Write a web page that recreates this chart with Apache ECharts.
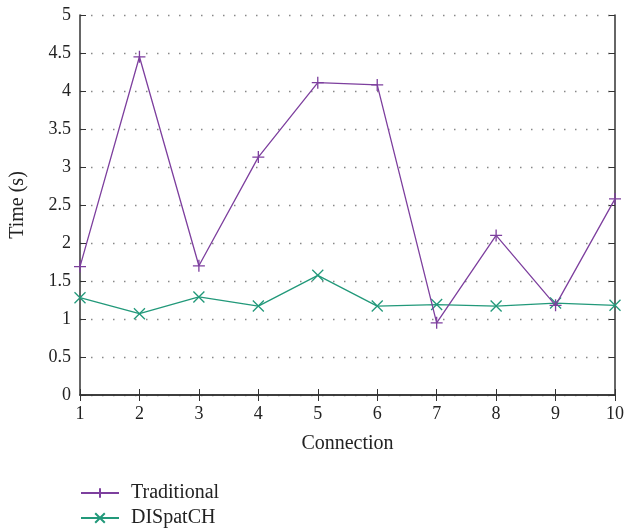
<!DOCTYPE html>
<html><head><meta charset="utf-8">
<script src="https://cdn.jsdelivr.net/npm/echarts@6/dist/echarts.min.js"></script>
<style>html,body{margin:0;padding:0;background:#fff}#c{width:628px;height:530px}</style>
</head><body><div id="c"></div>
<script>
const connections = [1,2,3,4,5,6,7,8,9,10];
const traditional = [1.69,4.45,1.70,3.13,4.11,4.08,0.95,2.10,1.18,2.58];
const dispatch = [1.28,1.07,1.29,1.17,1.575,1.17,1.19,1.17,1.21,1.18];
const seriesNames = ['Traditional','DISpatCH'];

const purple = '#7d3f9e';
const green = '#22997a';
const FONT = 'Liberation Serif';
const plusPath = 'path://M5,0 L5,10 M0,5 L10,5';
const crossPath = 'path://M0,0 L10,10 M0,10 L10,0';

const chart = echarts.init(document.getElementById('c'), null, {renderer:'canvas'});
const axisLine = {show:true, lineStyle:{color:'#333', width:1.5}};
const legendBase = {
  orient:'vertical', left:80, itemWidth:38, itemHeight:12,
  textStyle:{fontFamily:FONT, fontSize:20, color:'#222', padding:[0,0,0,7]}, padding:0
};
chart.setOption({
  animation:false,
  textStyle:{fontFamily:FONT},
  grid:{left:79, right:13, top:15, bottom:135, show:false},
  legend:[
    Object.assign({}, legendBase, {top:483, data:[seriesNames[0]]}),
    Object.assign({}, legendBase, {top:508, data:[seriesNames[1]]})
  ],
  xAxis:[{
    type:'value', min:1, max:10, interval:1,
    name:'Connection', nameLocation:'middle', nameGap:39,
    nameTextStyle:{fontFamily:FONT, fontSize:20, color:'#222'},
    axisLine:axisLine, axisTick:{inside:true, length:6, lineStyle:{color:'#333'}},
    axisLabel:{fontFamily:FONT, fontSize:18, color:'#222', margin:10},
    splitLine:{show:false}
  },{
    type:'value', min:1, max:10, interval:1, position:'top',
    axisLine:axisLine, axisTick:{inside:true, length:6, lineStyle:{color:'#333'}},
    axisLabel:{show:false}, splitLine:{show:false}
  }],
  yAxis:[{
    type:'value', min:0, max:5, interval:0.5,
    name:'Time (s)', nameLocation:'middle', nameGap:52, nameRotate:90,
    nameTextStyle:{fontFamily:FONT, fontSize:20, color:'#222'},
    axisLine:axisLine, axisTick:{inside:true, length:6, lineStyle:{color:'#333'}},
    axisLabel:{fontFamily:FONT, fontSize:18, color:'#222', margin:9},
    splitLine:{show:true, lineStyle:{color:'#888', type:[1.5,9.5], width:1.3}}
  },{
    type:'value', min:0, max:5, interval:0.5, position:'right',
    axisLine:axisLine, axisTick:{inside:true, length:6, lineStyle:{color:'#333'}},
    axisLabel:{show:false}, splitLine:{show:false}
  }],
  series:[{
    name:seriesNames[0], type:'line',
    data:connections.map((c,i)=>[c,traditional[i]]),
    symbol:plusPath, symbolSize:12,
    lineStyle:{color:purple, width:1.3},
    itemStyle:{color:purple, borderColor:purple, borderWidth:1.3},
    z:3
  },{
    name:seriesNames[1], type:'line',
    data:connections.map((c,i)=>[c,dispatch[i]]),
    symbol:crossPath, symbolSize:11,
    lineStyle:{color:green, width:1.3},
    itemStyle:{color:green, borderColor:green, borderWidth:1.3},
    z:2
  }]
});
</script></body></html>
